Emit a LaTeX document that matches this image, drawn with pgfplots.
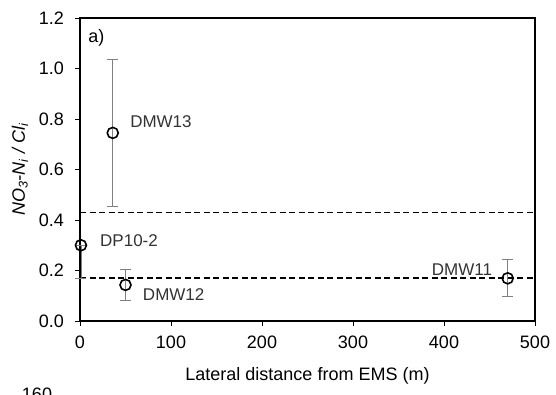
\documentclass[border=0pt]{standalone}
\usepackage{pgfplots}
\pgfplotsset{compat=1.18}
\usepackage{fontspec}
\setmainfont{Liberation Sans}
\begin{document}
\begin{tikzpicture}[x=1pt,y=1pt]
\path[use as bounding box] (0,0) rectangle (556,394);
\begin{axis}[
  at={(80pt,73pt)}, anchor=south west,
  scale only axis, width=455pt, height=303pt,
  xmin=0, xmax=500, ymin=0, ymax=1.2,
  xtick={0,100,...,500}, ytick={0,0.2,...,1.2},
  axis line style={line width=1.8pt},
  tick style={black, line width=0.9pt},
  tick align=outside, major tick length=5pt,
  xtick pos=left, ytick pos=left,
  tick label style={font=\fontsize{18}{20}\selectfont},
  yticklabel style={inner sep=0pt, xshift=-11pt},
  xticklabel style={inner sep=0pt, yshift=-10pt},
  /pgf/number format/assume math mode=true,
  yticklabel={\pgfmathprintnumber[fixed, fixed zerofill, precision=1]{\tick}},
  xticklabel={\pgfmathprintnumber[fixed, precision=0]{\tick}},
  xlabel={Lateral distance from EMS (m)},
  xlabel style={font=\fontsize{18}{20}\selectfont, at={(axis description cs:0.5,0)}, anchor=base, yshift=-59pt},
  ylabel={\textit{NO\textsubscript{3}-N\textsubscript{i} / Cl\textsubscript{i}}},
  ylabel style={font=\fontsize{18}{20}\selectfont, at={(axis description cs:-0.132,0.5)}, anchor=center},
  clip=false,
]
\addplot[black, line width=1.4pt, dash pattern=on 6pt off 3.5pt] coordinates {(0,0.43) (500,0.43)};
\addplot[black, line width=1.4pt, dash pattern=on 6pt off 3.5pt] coordinates {(0,0.17) (500,0.17)};
\addplot[draw=none, mark=o, mark size=5.5pt, mark options={black, line width=1.6pt},
  error bars/.cd, y dir=both, y explicit,
  error bar style={gray, line width=0.7pt},
  error mark options={rotate=90, mark size=5.5pt, gray, line width=0.7pt}]
  coordinates {
  (36,0.745) -= (0,0.29) += (0,0.29)
  (1,0.30) -= (0,0.13) += (0,0.0)
  (50,0.143) -= (0,0.06) += (0,0.062)
  (470,0.169) -= (0,0.07) += (0,0.076)
  };
\node[anchor=west, inner sep=0pt, font=\fontsize{18}{20}\selectfont] at (axis cs:9,1.12) {a)};
\node[anchor=west, inner sep=0pt, font=\fontsize{17}{19}\selectfont, text=black!80] at (axis cs:55,0.788) {DMW13};
\node[anchor=west, inner sep=0pt, font=\fontsize{17}{19}\selectfont, text=black!80] at (axis cs:22,0.32) {DP10-2};
\node[anchor=west, inner sep=0pt, font=\fontsize{17}{19}\selectfont, text=black!80] at (axis cs:69,0.103) {DMW12};
\node[anchor=east, inner sep=0pt, font=\fontsize{17}{19}\selectfont, text=black!80] at (axis cs:453,0.202) {DMW11};
\end{axis}
\node[anchor=north, inner sep=0pt, font=\fontsize{18}{20}\selectfont] at (37,6) {160};
\end{tikzpicture}
\end{document}
